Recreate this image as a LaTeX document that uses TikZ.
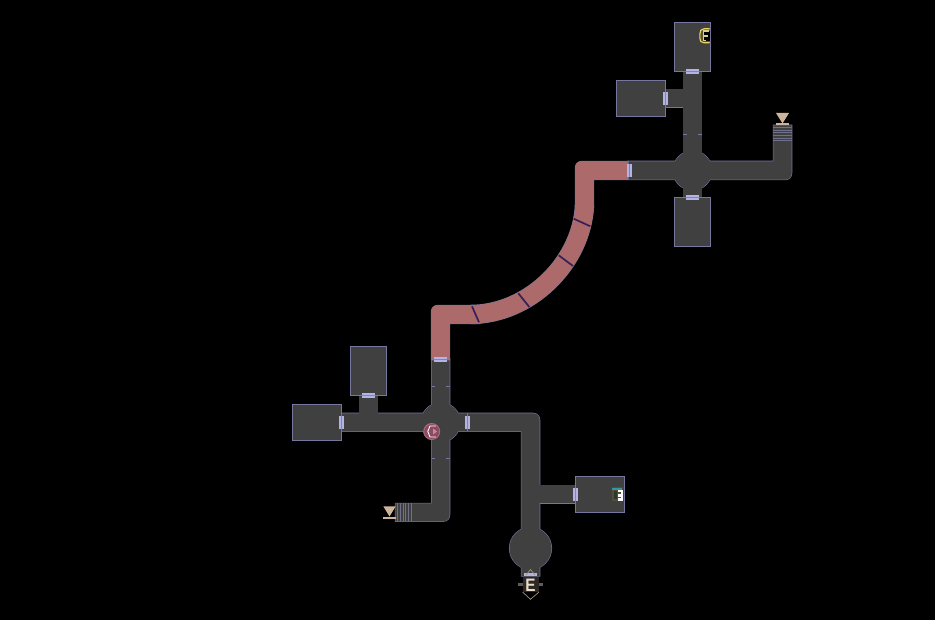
\documentclass[tikz,border=0pt]{standalone}
\usepackage{fontspec}
\setmainfont{Liberation Sans}
\definecolor{floorc}{HTML}{404040}
\definecolor{edgec}{HTML}{76769E}
\definecolor{redc}{HTML}{AD6A6A}
\definecolor{doorc}{HTML}{B4B4E4}
\definecolor{doorm}{HTML}{8484B4}
\definecolor{tickc}{HTML}{35205A}
\definecolor{tanc}{HTML}{CFB49C}
\definecolor{stairc}{HTML}{70708A}
\definecolor{pinkc}{HTML}{8E4A63}
\definecolor{pinkl}{HTML}{B06A84}
\definecolor{pinka}{HTML}{C88AA0}
\definecolor{olivec}{HTML}{5A5430}
\definecolor{yelc}{HTML}{E8D468}
\definecolor{yeld}{HTML}{D8D08C}
\definecolor{brownc}{HTML}{5A4A38}
\definecolor{tealc}{HTML}{2E9C9C}
\definecolor{mossc}{HTML}{2A3A30}
\definecolor{chevc}{HTML}{A09078}
\definecolor{badgec}{HTML}{2E2823}
\definecolor{letterc}{HTML}{E8DCCB}
\tikzset{
  room/.style={draw=edgec,fill=floorc,line width=0.9pt,inner sep=0pt,outer sep=0pt,anchor=north west},
  door/.style={fill=doorc,draw=none},
  marktick/.style={draw=edgec,line width=0.8pt},
  redtick/.style={draw=tickc,line width=1.7pt},
  stairline/.style={draw=stairc,line width=0.5pt},
  markbase/.style={draw=tanc,line width=1.6pt},
  markcone/.style={fill=tanc,draw=none},
  barside/.style={fill=floorc!85!white,draw=none},
  edgeonly/.style={draw=edgec,line width=1.1pt,fill=edgec},
  fillonly/.style={fill=floorc,draw=none},
  redstroke/.style={draw=redc,line width=18.4pt}
}
\newcommand{\vdoor}[4]{\fill[door] (#1,#2) rectangle (#3,#4);
  \draw[doorm,line width=0.7pt] ({(#1+#3)/2},#2) -- ({(#1+#3)/2},#4);}
\newcommand{\hdoor}[4]{\fill[door] (#1,#2) rectangle (#3,#4);
  \draw[doorm,line width=0.7pt] (#1,{(#2+#4)/2}) -- (#3,{(#2+#4)/2});}
\newcommand{\floorshapes}[1]{%
  \path[#1] (683.3,71) rectangle (701.7,198);
  \path[#1] (665,89.3) rectangle (684,107.3);
  \path[#1] (628,161.3) -- (773.3,161.3) -- (773.3,125.3) -- (791.7,125.3) -- (791.7,173)
     .. controls (791.7,177) and (789,179.7) .. (785,179.7) -- (628,179.7) -- cycle;
  \path[#1] (692.5,170.5) circle[radius=19.6];
  \path[#1] (431.7,359) -- (449.7,359) -- (449.7,514.5)
     .. controls (449.7,518.5) and (447,521.3) .. (443,521.3) -- (395.3,521.3) -- (395.3,503.3) -- (431.7,503.3) -- cycle;
  \path[#1] (359.3,395) rectangle (377.7,414);
  \path[#1] (341,413.3) -- (533,413.3) .. controls (537,413.3) and (539.7,416) .. (539.7,420)
     -- (539.7,576) -- (521.3,576) -- (521.3,431.3) -- (341,431.3) -- cycle;
  \path[#1] (440.7,422.3) circle[radius=19.6];
  \path[#1] (539,485.3) rectangle (576,503.3);
  \path[#1] (530.5,548.3) circle[radius=21];
}
\begin{document}
\begin{tikzpicture}[x=1pt,y=-1pt]
\useasboundingbox (0,0) rectangle (935,620);
\fill[black] (0,0) rectangle (935,620);

\floorshapes{edgeonly}
\floorshapes{fillonly}

% red corridor
\draw[edgec,line width=19.4pt] (584.5,205) .. controls (582,262) and (530,314.5) .. (470,314.5);
\path[edgeonly,line width=1pt] (628,161.3) -- (582,161.3) .. controls (578,161.3) and (575.3,164) .. (575.3,168)
   -- (575.3,208) -- (593.7,208) -- (593.7,179.7) -- (628,179.7) -- cycle;
\path[edgeonly,line width=1pt] (480,305.3) -- (438,305.3) .. controls (434,305.3) and (431.3,308) .. (431.3,312)
   -- (431.3,360) -- (449.7,360) -- (449.7,323.7) -- (480,323.7) -- cycle;
\fill[redc] (628,161.3) -- (582,161.3) .. controls (578,161.3) and (575.3,164) .. (575.3,168)
   -- (575.3,208) -- (593.7,208) -- (593.7,179.7) -- (628,179.7) -- cycle;
\fill[redc] (480,305.3) -- (438,305.3) .. controls (434,305.3) and (431.3,308) .. (431.3,312)
   -- (431.3,360) -- (449.7,360) -- (449.7,323.7) -- (480,323.7) -- cycle;
\draw[redstroke] (584.5,205) .. controls (582,262) and (530,314.5) .. (470,314.5);
\draw[redtick] (573.7,218.7) -- (590.3,226.3);
\draw[redtick] (558.7,255.3) -- (573,266);
\draw[redtick] (518.3,293.3) -- (529.3,307);
\draw[redtick] (472,306.3) -- (479,322.3);

% rooms
\node[room,minimum width=36.4pt,minimum height=49.4pt] (rtop) at (674.3,22.3) {};
\node[room,minimum width=49.4pt,minimum height=36.4pt] (rwest) at (616.3,80.3) {};
\node[room,minimum width=36.4pt,minimum height=49.4pt] (rsouth) at (674.3,197.3) {};
\node[room,minimum width=36.4pt,minimum height=49pt] (rup) at (350.3,346.3) {};
\node[room,minimum width=49.4pt,minimum height=36pt] (rleft) at (292.3,404.3) {};
\node[room,minimum width=49.4pt,minimum height=36pt] (rse) at (575.3,476.3) {};

% corridor ticks
\draw[marktick] (683.3,134.3) -- (687,134.3) (698,134.3) -- (701.7,134.3);
\draw[marktick] (431.7,386.3) -- (435,386.3) (446,386.3) -- (449.7,386.3);
\draw[marktick] (431.7,458.3) -- (435,458.3) (446,458.3) -- (449.7,458.3);
\draw[marktick] (467.7,413.3) -- (467.7,416) (467.7,429) -- (467.7,431.3);

% doors
\hdoor{686}{69}{699}{73.7}
\vdoor{663}{91.7}{668}{105}
\vdoor{627}{163.7}{632}{177}
\hdoor{686}{195}{699}{200}
\hdoor{362}{393}{375}{398}
\vdoor{339}{416}{344}{429}
\hdoor{434}{357}{447}{362}
\vdoor{465}{416}{470}{429}
\vdoor{573}{488}{578}{501}
\fill[door] (524,573) rectangle (536.7,576);

% stairs NE
\foreach \yy in {127.3,130,132.7,135.3,138,140.7}
  \draw[stairline] (773.3,\yy) -- (791.7,\yy);
\fill[markcone] (776,113) -- (789,113) -- (782.5,123.5) -- cycle;
\draw[markbase] (776,124.2) -- (789,124.2);

% stairs SW
\foreach \xx in {397.7,400.3,403,405.7,408.3,411}
  \draw[stairline] (\xx,503.3) -- (\xx,521.3);
\fill[markcone] (383.3,506.3) -- (395.7,506.3) -- (389.5,516.5) -- cycle;
\draw[markbase] (383.3,518) -- (395.7,518);

% pink marker
\fill[pinkc] (431.7,431.5) circle[radius=8.3];
\draw[pinkl,line width=0.8pt] (431.7,431.5) circle[radius=8];
\fill[pinka] (433,428.5) -- (437,431.5) -- (433,434.5) -- cycle;
\draw[white,line width=0.9pt] (435.8,426) -- (430,426) -- (427.8,431.5) -- (430,437) -- (435.8,437);

% yellow marker
\fill[olivec] (710,28.5) -- (704,28.5) .. controls (701,28.5) and (699.5,31) .. (699.5,34)
   -- (699.5,38) .. controls (699.5,41) and (701,43) .. (704,43) -- (710,43) -- cycle;
\draw[yelc,line width=1.1pt] (709.5,28.8) -- (704,28.8) .. controls (701,28.8) and (699.8,31) .. (699.8,34)
   -- (699.8,38) .. controls (699.8,41) and (701,42.8) .. (704,42.8) -- (709.5,42.8);
\fill[black] (703.5,31) rectangle (710,41.5);
\fill[yeld] (702.5,30.5) rectangle (708.5,32.3);
\fill[yeld] (702.5,30.5) rectangle (704.4,41.5);
\fill[yeld] (702.5,35.2) rectangle (708,37);
\fill[yeld] (702.5,39.8) rectangle (706,41.5);

% south-east room marker
\fill[brownc] (611.7,486.7) rectangle (623,501);
\fill[tealc] (612,488) rectangle (622,490);
\fill[mossc] (613.5,491) rectangle (617,499);
\fill[white] (617.5,490) rectangle (623.3,500.5);
\fill[brownc] (617.5,492.3) rectangle (620.5,494);
\fill[brownc] (617.5,496.5) rectangle (620.5,498.2);

% exit badge
\fill[barside] (518,583) rectangle (522.5,586);
\fill[barside] (539,583) rectangle (543,586);
\draw[chevc,line width=0.7pt] (526,575) -- (530.5,569.5) -- (535,575);
\fill[badgec] (522.5,576.7) rectangle (539,592);
\draw[chevc,line width=0.7pt] (522.5,592) -- (530.5,599.3) -- (539,592);
\node[inner sep=0pt,text=letterc,xscale=0.85,font=\bfseries\fontsize{18}{18}\selectfont] (exitE) at (530.5,585) {E};
\end{tikzpicture}
\end{document}
